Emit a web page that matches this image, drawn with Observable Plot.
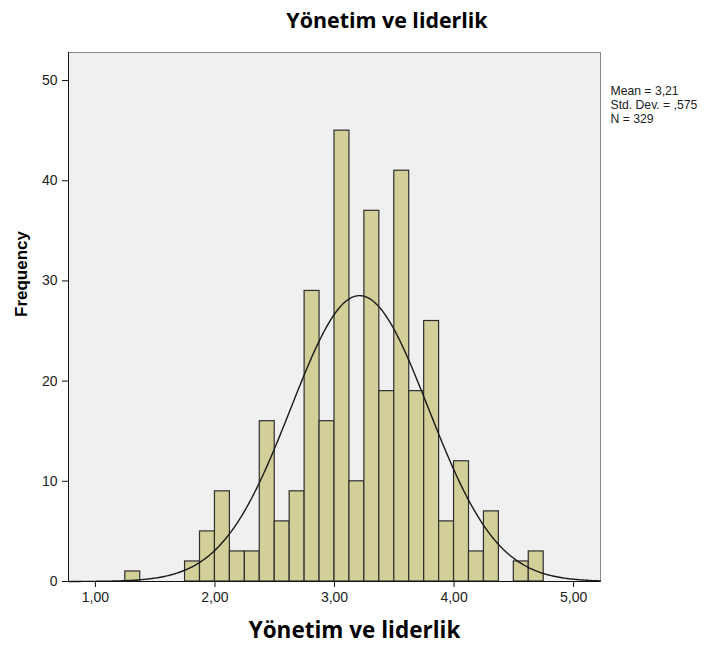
<!DOCTYPE html>
<html>
<head>
<meta charset="utf-8">
<script src="https://cdn.jsdelivr.net/npm/d3@7"></script>
<script src="https://cdn.jsdelivr.net/npm/@observablehq/plot@0.6"></script>
<style>
  html, body { margin: 0; padding: 0; background: #fff; }
  #title { width: 712px; height: 42px; line-height: 40px; text-align: center; padding-left: 62px; box-sizing: border-box;
           font-family: "Open Sans", "Noto Sans", sans-serif; font-weight: 700; font-size: 21.4px; color: #000; }
  #chart svg { display: block; }
</style>
</head>
<body>
<div id="title">Yönetim ve liderlik</div>
<div id="chart"></div>
<script>
// Histogram bins (lower edge) and frequencies, bin width 0.125
const binWidth = 0.125;
const binLower = [1.25, 1.75, 1.875, 2.0, 2.125, 2.25, 2.375, 2.5, 2.625, 2.75, 2.875, 3.0, 3.125, 3.25, 3.375, 3.5, 3.625, 3.75, 3.875, 4.0, 4.125, 4.25, 4.5, 4.625];
const counts   = [1,    2,    5,     9,   3,     3,    16,    6,   9,     29,   16,    45,  10,    37,   19,    41,  19,    26,   6,     12,  3,     7,    2,   3];
const xTicks = [1, 2, 3, 4, 5];
const yTicks = [0, 10, 20, 30, 40, 50];
const mean = 3.21, sd = 0.575, n = 329;
const statsLines = ["Mean = 3,21", "Std. Dev. = ,575", "N = 329"];
const xTitle = "Yönetim ve liderlik";
const yTitle = "Frequency";

const bars = binLower.map((x, i) => ({x1: x, x2: x + binWidth, y: counts[i]}));
const xDomain = [0.775, 5.225];
// Normal curve overlay defined by the reported mean, sd and N (scaled to bin width)
const curve = d3.range(0, 401).map(i => {
  const x = xDomain[0] + (xDomain[1] - xDomain[0]) * i / 400;
  const z = (x - mean) / sd;
  return {x, y: n * binWidth * Math.exp(-0.5 * z * z) / (sd * Math.sqrt(2 * Math.PI))};
});
const fmt = d => d.toFixed(2).replace(".", ",");

const chart = Plot.plot({
  width: 712,
  height: 608,
  marginTop: 10,
  marginBottom: 69,
  marginLeft: 68,
  marginRight: 112,
  style: {fontFamily: "'Liberation Sans', Arial, sans-serif", fontSize: "13px", color: "#222", background: "#fff"},
  x: {domain: xDomain},
  y: {domain: [0, 52.8]},
  marks: [
    Plot.frame({fill: "#f0f0f0", stroke: "#8a8a8a"}),
    Plot.rectY(bars, {x1: "x1", x2: "x2", y: "y", fill: "#d3cf98", stroke: "#2e2e2e", strokeWidth: 1.2}),
    Plot.line(curve, {x: "x", y: "y", stroke: "#1a1a1a", strokeWidth: 1.4}),
    Plot.ruleY([0], {stroke: "#111", strokeWidth: 1}),
    Plot.ruleX([xDomain[0]], {stroke: "#111", strokeWidth: 1}),
    Plot.axisX({ticks: xTicks, tickFormat: fmt, tickSize: 6, tickPadding: 5, fontSize: 14, label: null, stroke: "#111"}),
    Plot.axisY({ticks: yTicks, tickSize: 6, tickPadding: 5, fontSize: 14, label: null, stroke: "#111"}),
    Plot.text([xTitle], {frameAnchor: "bottom", dx: 20, dy: 56, fontSize: 22.5, fontWeight: "bold", fontFamily: "'Open Sans', 'Noto Sans', sans-serif", fill: "#000"}),
    Plot.text([yTitle], {frameAnchor: "left", dx: -47, rotate: -90, fontSize: 17, fontWeight: "bold", fill: "#000"}),
    Plot.text([statsLines.join("\n")], {frameAnchor: "top-right", dx: 10, dy: 33, textAnchor: "start", lineAnchor: "top", lineHeight: 1.12, fontSize: 12.2, fill: "#222"})
  ]
});
document.getElementById("chart").appendChild(chart);
</script>
</body>
</html>
